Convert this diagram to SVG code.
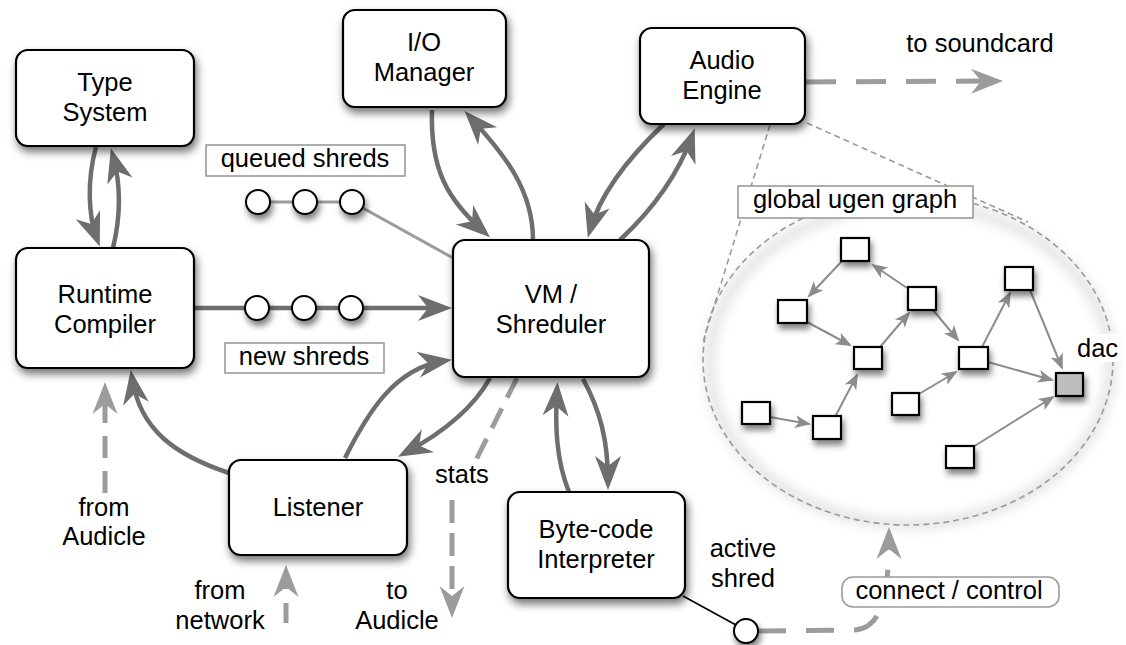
<svg xmlns="http://www.w3.org/2000/svg" width="1126" height="645" viewBox="0 0 1126 645">
<defs>
<style>
text{font-family:"Liberation Sans",Arial,Helvetica,sans-serif;font-size:25.5px;fill:#000}
.c{text-anchor:middle}
.node{fill:#fff;stroke:#000;stroke-width:2.2;filter:url(#sh)}
.lab{fill:#fff;stroke:#9a9a9a;stroke-width:1.6}
.dk{fill:none;stroke:#6e6e6e;stroke-width:4.5;marker-end:url(#aD)}
.lt{fill:none;stroke:#9c9c9c;stroke-width:5}
.ug{fill:#fff;stroke:#000;stroke-width:2.2;filter:url(#sh2)}
.ue{fill:none;stroke:#8c8c8c;stroke-width:2;marker-end:url(#aS)}
.sc{fill:#fff;stroke:#000;stroke-width:2;filter:url(#sh2)}
.cl{fill:none;stroke:#9a9a9a;stroke-width:1.6;stroke-dasharray:6 4}
</style>
<filter id="sh" x="-20%" y="-20%" width="140%" height="150%">
<feDropShadow dx="2" dy="5" stdDeviation="4" flood-color="#000" flood-opacity="0.55"/>
</filter>
<filter id="sh2" x="-50%" y="-50%" width="200%" height="220%">
<feDropShadow dx="2" dy="5" stdDeviation="3" flood-color="#000" flood-opacity="0.5"/>
</filter>
<filter id="blur" x="-10%" y="-10%" width="120%" height="120%">
<feGaussianBlur stdDeviation="6"/>
</filter>
<marker id="aD" markerUnits="userSpaceOnUse" viewBox="-28 -14 38 28" markerWidth="38" markerHeight="28" refX="0" refY="0" orient="auto">
<path d="M8,0 L-26,-13 L-16,0 L-26,13 Z" fill="#6e6e6e"/>
</marker>
<marker id="aL" markerUnits="userSpaceOnUse" viewBox="-28 -14 38 28" markerWidth="38" markerHeight="28" refX="0" refY="0" orient="auto">
<path d="M8,0 L-24,-12.5 L-14,0 L-24,12.5 Z" fill="#9c9c9c"/>
</marker>
<marker id="aS" markerUnits="userSpaceOnUse" viewBox="-16 -8 20 16" markerWidth="20" markerHeight="16" refX="0" refY="0" orient="auto">
<path d="M2,0 L-14,-6.5 L-10,0 L-14,6.5 Z" fill="#8c8c8c"/>
</marker>
</defs>

<!-- ugen graph cloud -->
<g id="ugen-graph">
<ellipse cx="910" cy="364" rx="201" ry="160" fill="none" stroke="#000" stroke-opacity="0.13" stroke-width="9" filter="url(#blur)"/>
<ellipse class="cl" cx="908" cy="360" rx="205" ry="165"/>
<line class="cl" x1="770" y1="125" x2="703" y2="342"/>
<line class="cl" x1="807" y1="123" x2="1028" y2="222"/>
</g>

<g id="connectors">
<path class="dk" d="M96,147 C87,180 88,215 97,239"/>
<path class="dk" d="M113,248 C121,215 121,185 113,156"/>
<path class="dk" d="M432,110 C430,170 448,200 484,232"/>
<path class="dk" d="M533,240 C533,190 505,155 470,117"/>
<path class="dk" d="M664,124 C628,158 600,195 590,230"/>
<path class="dk" d="M620,240 C652,210 678,175 692,136"/>
<path class="dk" d="M194,308 L444,308"/>
<path class="dk" d="M229,473 C175,455 140,430 132,378"/>
<path class="dk" d="M345,458 C368,412 395,368 444,361"/>
<path class="dk" d="M490,378 C475,405 448,430 405,453"/>
<path class="dk" d="M583,379 C600,410 608,440 608,482"/>
<path class="dk" d="M569,492 C556,460 555,425 557,390"/>
<path fill="none" stroke="#9c9c9c" stroke-width="3" d="M258,202 L352,202 L453,258"/>
<path class="lt" stroke-dasharray="22 13" marker-end="url(#aL)" d="M105,493 L105,390"/>
<path class="lt" stroke-dasharray="20 14" marker-end="url(#aL)" d="M286,623 L286,573"/>
<path class="lt" stroke-dasharray="23 10" marker-end="url(#aL)" d="M452,500 L452,610"/>
<path class="lt" stroke-dasharray="22 12" d="M517,378 L476,460"/>
<path class="lt" stroke-dasharray="30 20" marker-end="url(#aL)" d="M806,82 L995,81"/>
<path class="lt" stroke-dasharray="28 20" marker-end="url(#aL)" d="M758,631 L855,630 C880,628 889,600 889,535"/>
<line x1="683" y1="596" x2="736" y2="625" stroke="#000" stroke-width="1.6"/>
<path class="ue" d="M843,260 L809,296"/>
<path class="ue" d="M907,288 L873,265"/>
<path class="ue" d="M807,322 L850,345"/>
<path class="ue" d="M880,347 L909,313"/>
<path class="ue" d="M933,310 L958,340"/>
<path class="ue" d="M982,347 L1010,293"/>
<path class="ue" d="M1030,290 L1062,368"/>
<path class="ue" d="M988,362 L1052,380"/>
<path class="ue" d="M770,417 L809,424"/>
<path class="ue" d="M835,417 L857,375"/>
<path class="ue" d="M919,394 L956,372"/>
<path class="ue" d="M973,447 L1053,397"/>
</g>

<g id="type-system"><rect class="node" x="16" y="50" width="178" height="96" rx="12"/><text class="c" x="105" y="91">Type</text><text class="c" x="105" y="121">System</text></g>
<g id="runtime-compiler"><rect class="node" x="16" y="248" width="178" height="120" rx="12"/><text class="c" x="105" y="303">Runtime</text><text class="c" x="105" y="333">Compiler</text></g>
<g id="io-manager"><rect class="node" x="343" y="10" width="163" height="97" rx="12"/><text class="c" x="424" y="51">I/O</text><text class="c" x="424" y="81">Manager</text></g>
<g id="audio-engine"><rect class="node" x="640" y="28" width="165" height="96" rx="12"/><text class="c" x="722" y="69">Audio</text><text class="c" x="722" y="99">Engine</text></g>
<g id="vm-shreduler"><rect class="node" x="453" y="240" width="196" height="137" rx="12"/><text class="c" x="551" y="303">VM /</text><text class="c" x="551" y="333">Shreduler</text></g>
<g id="listener"><rect class="node" x="229" y="460" width="178" height="95" rx="12"/><text class="c" x="318" y="516">Listener</text></g>
<g id="byte-code-interpreter"><rect class="node" x="508" y="492" width="177" height="106" rx="12"/><text class="c" x="596" y="538">Byte-code</text><text class="c" x="596" y="568">Interpreter</text></g>

<g id="queued-shreds">
<rect class="lab" x="206" y="145" width="199" height="31"/><text class="c" x="305" y="167">queued shreds</text>
<circle class="sc" cx="258" cy="202" r="12"/><circle class="sc" cx="305" cy="202" r="12"/><circle class="sc" cx="352" cy="202" r="12"/>
</g>
<g id="new-shreds">
<circle class="sc" cx="257" cy="308" r="12"/><circle class="sc" cx="304" cy="308" r="12"/><circle class="sc" cx="351" cy="308" r="12"/>
<rect class="lab" x="225" y="343" width="159" height="30"/><text class="c" x="304" y="365">new shreds</text>
</g>
<g id="active-shred"><circle class="sc" cx="746" cy="631" r="12"/><text class="c" x="743" y="557">active</text><text class="c" x="743" y="587">shred</text></g>

<g id="ugens">
<rect class="ug" x="841" y="238" width="28" height="23"/>
<rect class="ug" x="778" y="300" width="29" height="23"/>
<rect class="ug" x="908" y="287" width="28" height="23"/>
<rect class="ug" x="1005" y="267" width="28" height="23"/>
<rect class="ug" x="854" y="347" width="28" height="22"/>
<rect class="ug" x="959" y="347" width="29" height="22"/>
<rect class="ug" x="1056" y="373" width="27" height="23" style="fill:#bdbdbd"/>
<rect class="ug" x="742" y="402" width="28" height="22"/>
<rect class="ug" x="813" y="416" width="28" height="23"/>
<rect class="ug" x="892" y="393" width="27" height="22"/>
<rect class="ug" x="946" y="446" width="28" height="22"/>
<rect x="1075" y="334" width="45" height="28" fill="#fff"/>
<text x="1077" y="357">dac</text>
</g>

<g id="labels">
<rect class="lab" x="738" y="186" width="235" height="32"/><text class="c" x="855" y="208">global ugen graph</text>
<rect class="lab" x="842" y="577" width="217" height="30" rx="11"/><text class="c" x="949" y="599">connect / control</text>
<text class="c" x="980" y="52">to soundcard</text>
<text class="c" x="104" y="516">from</text><text class="c" x="104" y="545">Audicle</text>
<text class="c" x="220" y="599">from</text><text class="c" x="220" y="629">network</text>
<text class="c" x="397" y="599">to</text><text class="c" x="397" y="629">Audicle</text>
<text x="435" y="483">stats</text>
</g>
</svg>
